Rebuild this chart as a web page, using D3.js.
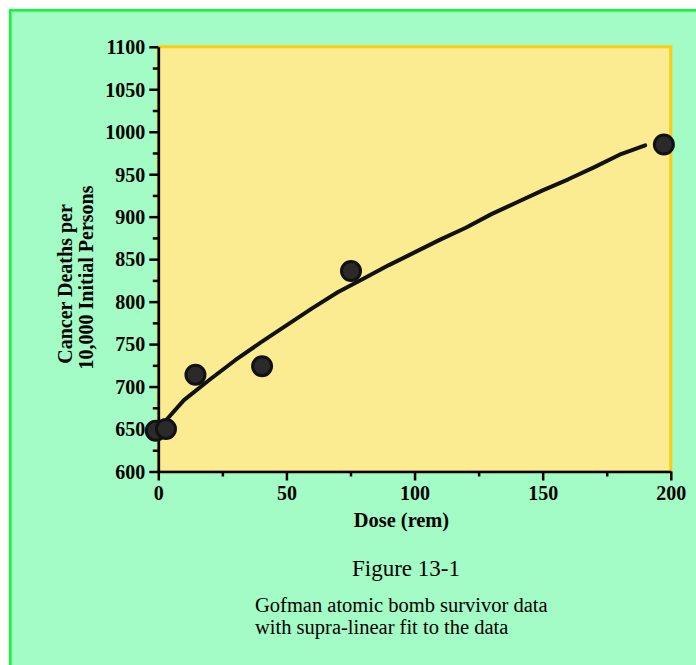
<!DOCTYPE html>
<html>
<head>
<meta charset="utf-8">
<script src="https://cdn.jsdelivr.net/npm/d3@7"></script>
<style>
  body { margin: 0; background: #ffffff; }
  svg { display: block; }
  .tick text { font-family: "Liberation Serif", "Times New Roman", serif; font-weight: bold; }
</style>
</head>
<body>
<svg id="chart" width="696" height="665"></svg>
<script>
// observed points (dose in rem, cancer deaths per 10,000)
var pointDose   = [-1, 3, 14.5, 40.5, 75.2, 197.3];
var pointDeaths = [648, 650, 714, 724, 836, 985];

// supra-linear fit line
var fitDose   = [0, 10, 20, 30, 40, 50, 60, 70, 80, 90, 100, 110, 120, 130, 140, 150, 160, 170, 180, 190];
var fitDeaths = [650, 684, 708, 731, 752, 772, 792, 811, 827, 843, 858, 873, 887, 903, 917, 931, 944, 958, 973, 984];

var xTicks = [0, 50, 100, 150, 200];
var yTicks = [600, 650, 700, 750, 800, 850, 900, 950, 1000, 1050, 1100];

var svg = d3.select("#chart");

// outer frame
svg.append("rect")
  .attr("x", 10.3).attr("y", 10.3)
  .attr("width", 720).attr("height", 700)
  .attr("fill", "#a3fbc5")
  .attr("stroke", "#19f53f")
  .attr("stroke-width", 2.7);

var plotLeft = 158.3, plotRight = 670.8, plotTop = 46.8, plotBottom = 471.5;

var x = d3.scaleLinear().domain([0, 200]).range([plotLeft, plotRight]);
var y = d3.scaleLinear().domain([600, 1100]).range([plotBottom, plotTop]);

// plot area
svg.append("rect")
  .attr("x", plotLeft).attr("y", plotTop)
  .attr("width", plotRight - plotLeft).attr("height", plotBottom - plotTop)
  .attr("fill", "#fcec91")
  .attr("stroke", "#fdcb12")
  .attr("stroke-width", 3);

// minor ticks
var minorY = d3.range(625, 1100, 50);
var minorX = d3.range(25, 200, 50);

svg.append("g")
  .attr("transform", "translate(" + plotLeft + ",0)")
  .call(d3.axisLeft(y).tickValues(minorY).tickFormat("").tickSize(5.5))
  .call(function(g) { g.select(".domain").remove(); })
  .selectAll("line").attr("stroke", "#000").attr("stroke-width", 2.5);

svg.append("g")
  .attr("transform", "translate(0," + plotBottom + ")")
  .call(d3.axisBottom(x).tickValues(minorX).tickFormat("").tickSize(5))
  .call(function(g) { g.select(".domain").remove(); })
  .selectAll("line").attr("stroke", "#000").attr("stroke-width", 2.5);

// y axis
var yAxis = svg.append("g")
  .attr("transform", "translate(" + plotLeft + ",0)")
  .call(d3.axisLeft(y).tickValues(yTicks).tickFormat(d3.format("d")).tickSize(9).tickSizeOuter(0));
yAxis.select(".domain").attr("stroke", "#000").attr("stroke-width", 2.7);
yAxis.selectAll(".tick line").attr("stroke", "#000").attr("stroke-width", 2.5);
yAxis.selectAll(".tick text")
  .attr("font-size", 20).attr("fill", "#000").attr("x", -13).attr("dy", "0.34em");

// x axis
var xAxis = svg.append("g")
  .attr("transform", "translate(0," + plotBottom + ")")
  .call(d3.axisBottom(x).tickValues(xTicks).tickSize(9).tickSizeOuter(0));
xAxis.select(".domain").attr("stroke", "#000").attr("stroke-width", 2.7);
xAxis.selectAll(".tick line").attr("stroke", "#000").attr("stroke-width", 2.5);
xAxis.selectAll(".tick text")
  .attr("font-size", 20).attr("fill", "#000").attr("y", 28).attr("dy", 0);

// fit line
var line = d3.line()
  .x(function(d, i) { return x(fitDose[i]); })
  .y(function(d, i) { return y(fitDeaths[i]); });

svg.append("path")
  .datum(fitDose)
  .attr("d", line)
  .attr("fill", "none")
  .attr("stroke", "#111")
  .attr("stroke-width", 4)
  .attr("stroke-linecap", "round")
  .attr("stroke-linejoin", "round");

// data points
svg.append("g")
  .selectAll("circle")
  .data(pointDose)
  .enter()
  .append("circle")
  .attr("cx", function(d) { return x(d); })
  .attr("cy", function(d, i) { return y(pointDeaths[i]); })
  .attr("r", 9.5)
  .attr("fill", "#2a2a2a")
  .attr("stroke", "#111")
  .attr("stroke-width", 3);

// axis titles
var serif = "'Liberation Serif', 'Times New Roman', serif";

svg.append("text")
  .attr("x", 401.5).attr("y", 527)
  .attr("text-anchor", "middle")
  .attr("font-family", serif).attr("font-weight", "bold").attr("font-size", 20.4)
  .text("Dose (rem)");

svg.append("text")
  .attr("transform", "translate(72,284) rotate(-90)")
  .attr("text-anchor", "middle")
  .attr("font-family", serif).attr("font-weight", "bold").attr("font-size", 20)
  .text("Cancer Deaths per");

svg.append("text")
  .attr("transform", "translate(93,277.5) rotate(-90)")
  .attr("text-anchor", "middle")
  .attr("font-family", serif).attr("font-weight", "bold").attr("font-size", 20)
  .text("10,000 Initial Persons");

// figure caption
svg.append("text")
  .attr("x", 406).attr("y", 576)
  .attr("text-anchor", "middle")
  .attr("font-family", serif).attr("font-size", 23)
  .text("Figure 13-1");

svg.append("text")
  .attr("x", 255).attr("y", 611.5)
  .attr("font-family", serif).attr("font-size", 20.5)
  .text("Gofman atomic bomb survivor data");

svg.append("text")
  .attr("x", 255).attr("y", 634)
  .attr("font-family", serif).attr("font-size", 20.5)
  .text("with supra-linear fit to the data");
</script>
</body>
</html>
